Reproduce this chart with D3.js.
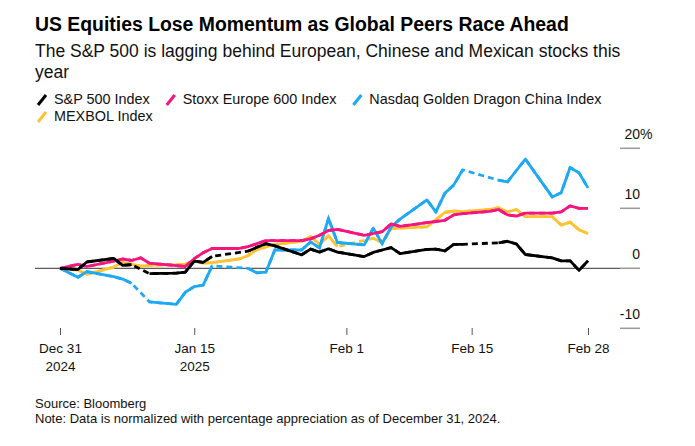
<!DOCTYPE html>
<html><head><meta charset="utf-8">
<script src="https://cdn.jsdelivr.net/npm/d3@7"></script>
<style>
html,body{margin:0;padding:0;background:#fff;}
svg{display:block;font-family:"Liberation Sans",Arial,Helvetica,sans-serif;}
</style></head>
<body><svg id="c" width="695" height="446"></svg>
<script>
// ---- data ----
const dates = ["2024-12-31","2025-01-02","2025-01-03","2025-01-06","2025-01-07","2025-01-08","2025-01-09","2025-01-10","2025-01-13","2025-01-14","2025-01-15","2025-01-16","2025-01-17","2025-01-20","2025-01-21","2025-01-22","2025-01-23","2025-01-24","2025-01-27","2025-01-28","2025-01-29","2025-01-30","2025-01-31","2025-02-03","2025-02-04","2025-02-05","2025-02-06","2025-02-07","2025-02-10","2025-02-11","2025-02-12","2025-02-13","2025-02-14","2025-02-17","2025-02-18","2025-02-19","2025-02-20","2025-02-21","2025-02-24","2025-02-25","2025-02-26","2025-02-27","2025-02-28"];
const spx    = [0,-0.2,1.05,1.65,0.5,0.6,null,-0.9,-0.8,-0.65,1.2,1.0,2.0,null,2.85,3.5,4.1,3.75,2.25,3.2,2.7,3.25,2.7,1.95,2.65,3.05,3.45,2.45,3.15,3.2,2.9,4.0,4.0,null,4.25,4.5,4.05,2.3,1.75,1.25,1.25,-0.35,1.25];
const stoxx  = [0,0.65,0.3,1.2,1.55,1.3,1.75,0.85,0.45,0.3,1.6,2.6,3.3,3.3,3.6,4.1,4.6,4.6,4.6,4.9,5.5,6.3,6.5,5.5,5.8,6.1,7.4,7.0,7.6,7.8,8.0,8.9,9.1,9.5,9.8,8.9,8.7,9.2,9.2,9.4,10.4,10.0,10.0];
const dragon = [0,-1.5,-0.55,-1.4,-1.8,-2.5,null,-5.6,-6.0,-4.0,-3.05,-2.8,0.4,null,0.0,-0.75,-0.65,3.05,3.05,4.4,3.4,8.3,4.3,3.9,6.7,4.1,6.9,8.2,11.4,9.4,12.5,13.9,16.4,null,14.7,14.4,16.3,18.2,11.9,12.6,16.8,15.9,13.4];
const mexbol = [0,-0.3,-1.0,0.2,1.0,0.7,0.35,0.5,0.6,0.7,1.2,0.85,0.95,1.55,2.1,3.1,3.55,4.0,4.5,5.3,4.0,5.4,3.6,null,5.0,4.3,6.6,6.7,6.9,8.1,9.3,9.55,9.45,9.8,10.1,9.4,9.8,8.6,8.6,7.2,7.7,6.4,5.8];
const seriesNames = ["S&P 500 Index","Stoxx Europe 600 Index","Nasdaq Golden Dragon China Index","MEXBOL Index"];
const seriesColors = ["#000000","#f5157f","#1ea9f4","#fdc333"];
const yTicks = [-10,0,10,20];
const xTickDates = ["2024-12-31","2025-01-15","2025-02-01","2025-02-15","2025-02-28"];
const xTickLabels = [["Dec 31","2024"],["Jan 15","2025"],["Feb 1",""],["Feb 15",""],["Feb 28",""]];
const title = "US Equities Lose Momentum as Global Peers Race Ahead";
const subtitle = ["The S&P 500 is lagging behind European, Chinese and Mexican stocks this","year"];
const notes = ["Source: Bloomberg","Note: Data is normalized with percentage appreciation as of December 31, 2024."];

// ---- render ----
const svg = d3.select("#c");
const parse = d3.timeParse("%Y-%m-%d");
const D = dates.map(parse);
const x = d3.scaleTime().domain([parse("2024-12-31"), parse("2025-02-28")]).range([60, 588]);
const y = d3.scaleLinear().domain([-10, 20]).range([328.3, 148.3]);

svg.append("text").attr("x",35).attr("y",31).attr("font-size",19.4).attr("font-weight","bold").attr("fill","#000").text(title);
subtitle.forEach((s,i)=>svg.append("text").attr("x",35).attr("y",57+i*21).attr("font-size",17.5).attr("fill","#111").text(s));

// legend
const legendOrder = [0,1,2,3];
let lx = 37, ly = 104;
legendOrder.forEach(i=>{
  const g = svg.append("g");
  const t = g.append("text").attr("font-size",14.4).attr("fill","#111").text(seriesNames[i]);
  const w = t.node().getComputedTextLength();
  if (lx + 18 + w > 650) { lx = 37; ly += 17; }
  g.append("line").attr("x1",lx+1).attr("y1",ly+1).attr("x2",lx+9).attr("y2",ly-9)
    .attr("stroke",seriesColors[i]).attr("stroke-width",3);
  t.attr("x",lx+17).attr("y",ly);
  lx = lx + 17 + w + 16;
});

// y grid ticks & labels
yTicks.forEach(v=>{
  svg.append("line").attr("x1",620).attr("x2",640).attr("y1",y(v)).attr("y2",y(v)).attr("stroke","#999").attr("stroke-width",1.5);
  svg.append("text").attr("x",640).attr("y",y(v)-9).attr("text-anchor","end").attr("font-size",14).attr("fill","#111").text(v);
  if (v===20) svg.append("text").attr("x",640).attr("y",y(v)-9).attr("font-size",14).attr("fill","#111").text("%");
});
svg.append("line").attr("x1",35).attr("x2",620).attr("y1",y(0)).attr("y2",y(0)).attr("stroke","#333").attr("stroke-width",1);

// x axis
const xa = svg.append("g").attr("transform","translate(0,328)")
  .call(d3.axisBottom(x).tickValues(xTickDates.map(parse)).tickSize(7).tickSizeOuter(0).tickFormat(""));
xa.select(".domain").remove();
xa.selectAll(".tick line").attr("stroke","#555").attr("stroke-width",1);
xa.selectAll(".tick").each(function(d,i){
  const t = d3.select(this).append("text").attr("text-anchor","middle").attr("fill","#111").attr("font-size",13.5);
  t.append("tspan").attr("x",0).attr("y",24.7).text(xTickLabels[i][0]);
  if (xTickLabels[i][1]) t.append("tspan").attr("x",0).attr("y",42.7).text(xTickLabels[i][1]);
});

// lines
const allSeries = [spx, stoxx, dragon, mexbol];
const lineGen = d3.line().x(d=>x(d.date)).y(d=>y(d.v)).defined(d=>d.v!==null);
[3,2,1,0].forEach(i=>{
  const pts = D.map((d,j)=>({date:d, v:allSeries[i][j]}));
  const full = pts.filter(p=>p.v!==null);
  svg.append("path").attr("d", d3.line().x(d=>x(d.date)).y(d=>y(d.v))(full))
    .attr("fill","none").attr("stroke",seriesColors[i]).attr("stroke-width",2.8).attr("stroke-dasharray","6,4");
  svg.append("path").attr("d", lineGen(pts))
    .attr("fill","none").attr("stroke",seriesColors[i]).attr("stroke-width",2.8).attr("stroke-linejoin","round");
});

notes.forEach((s,i)=>svg.append("text").attr("x",35).attr("y",408+i*15).attr("font-size",13).attr("fill","#111").text(s));
</script></body></html>
